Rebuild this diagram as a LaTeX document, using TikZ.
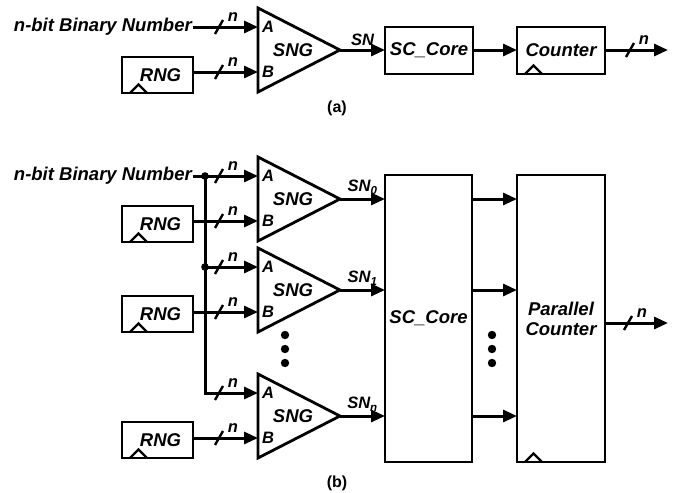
\documentclass[tikz,border=0pt]{standalone}
\usepackage{fontspec}
\setmainfont{Liberation Sans}
\usetikzlibrary{arrows.meta,calc}
\newcommand\mainf{\fontsize{18.5}{20}\selectfont\bfseries\itshape}
\newcommand\smallf{\fontsize{16.5}{18}\selectfont\bfseries\itshape}
\newcommand\capf{\fontsize{16}{18}\selectfont\bfseries}
\tikzset{
  wire/.style={line width=3pt},
  arr/.style={line width=3pt,-{Triangle[length=14pt,width=12pt]}},
  blk/.style={draw,line width=2.4pt,font=\mainf,inner sep=0pt,outer sep=0pt,align=center},
  txt/.style={font=\mainf,inner sep=1pt},
  lab/.style={font=\smallf,inner sep=1pt},
  clk/.style={line width=2.2pt},
  bus/.pic={\draw[line width=2.4pt] (-4,7) -- (4,-7); \node[lab] (-n) at (14,-10) {n};},
}
\newcommand\sngat[2]{%
  \draw[line width=2.8pt,line join=miter] (258,#2) -- (340,#2+42) -- (258,#2+84) -- cycle;
  \coordinate (#1-A) at (258,#2+19);
  \coordinate (#1-B) at (258,#2+64);
  \coordinate (#1-out) at (340,#2+42);
  \node[txt] (#1-name) at (293,#2+42) {SNG};
  \node[lab,anchor=west] (#1-a) at (261,#2+19) {A};
  \node[lab,anchor=west] (#1-b) at (261,#2+64) {B};
}
\newcommand\clockon[1]{%
  \draw[clk] ($(#1.south west)+(8,0)$) -- ++(8.5,-8.5) -- ++(8.5,8.5);
}
\newcommand\rngat[2]{%
  \node[blk,minimum width=71pt,minimum height=36pt] (#1) at (157.5,#2) {\hspace*{6pt}RNG};
  \clockon{#1}
}
\begin{document}
\begin{tikzpicture}[x=1pt,y=-1pt]
\useasboundingbox (0,0) rectangle (681,493);
% ---------------- (a)
\sngat{sa}{8}
\rngat{ra}{75}
\node[txt,anchor=east] (ina) at (193,27) {n-bit Binary Number};
\draw[arr] (ina.east |- sa-A) -- (sa-A);
\pic (ba1) at (219,27) {bus};
\draw[arr] (ra.east |- sa-B) -- (sa-B);
\pic (ba2) at (219,72) {bus};
\node[blk,minimum width=88pt,minimum height=47pt] (corea) at (429,50.5) {SC\_Core};
\node[blk,minimum width=88pt,minimum height=47pt] (cnta) at (561,50.5) {Counter};
\clockon{cnta}
\draw[arr] (sa-out) -- node[lab,above=2pt] (lsn) {SN} (corea.west |- sa-out);
\draw[arr] (corea.east |- sa-out) -- (cnta.west |- sa-out);
\coordinate (outa) at (668,50);
\draw[arr] (cnta.east |- outa) -- (outa);
\pic (ba3) at (630,50) {bus};
\node[font=\capf] (capa) at (337,108) {(a)};
% ---------------- (b)
\sngat{s1}{157}
\sngat{s2}{248}
\sngat{s3}{374}
\rngat{r1}{224}
\rngat{r2}{314}
\rngat{r3}{440}
\node[txt,anchor=east] (inb) at (193,176) {n-bit Binary Number};
\coordinate (j1) at (205,176);
\coordinate (j2) at (205,267);
\draw[arr] (inb.east |- s1-A) -- (s1-A);
\draw[arr,line join=miter] (j1) |- (s3-A);
\draw[arr] (j2) -- (s2-A);
\fill (j1) circle (3.8pt);
\fill (j2) circle (3.8pt);
\draw[arr] (r1.east |- s1-B) -- (s1-B);
\draw[arr] (r2.east |- s2-B) -- (s2-B);
\draw[arr] (r3.east |- s3-B) -- (s3-B);
\pic (bb1) at (219,176) {bus};
\pic (bb2) at (219,221) {bus};
\pic (bb3) at (219,267) {bus};
\pic (bb4) at (219,312) {bus};
\pic (bb5) at (219,393) {bus};
\pic (bb6) at (219,438) {bus};
\node[blk,minimum width=87pt,minimum height=287pt] (coreb) at (428.5,318.5) {SC\_Core};
\node[blk,minimum width=88pt,minimum height=287pt] (pcb) at (561,318.5) {Parallel\\Counter};
\clockon{pcb}
\draw[arr] (s1-out) -- node[lab,above=2pt] (lsn0) {SN\textsubscript{0}} (coreb.west |- s1-out);
\draw[arr] (s2-out) -- node[lab,above=2pt] (lsn1) {SN\textsubscript{1}} (coreb.west |- s2-out);
\draw[arr] (s3-out) -- node[lab,above=2pt] (lsnn) {SN\textsubscript{n}} (coreb.west |- s3-out);
\draw[arr] (coreb.east |- s1-out) -- (pcb.west |- s1-out);
\draw[arr] (coreb.east |- s2-out) -- (pcb.west |- s2-out);
\draw[arr] (coreb.east |- s3-out) -- (pcb.west |- s3-out);
\coordinate (outb) at (668,323);
\draw[arr] (pcb.east |- outb) -- (outb);
\pic (bb7) at (628,323) {bus};
\foreach \yy in {335,349,363} {
  \fill (285,\yy) circle (4.2pt);
  \fill (492,\yy) circle (4.2pt);
}
\node[font=\capf] (capb) at (337,483) {(b)};
\end{tikzpicture}
\end{document}
